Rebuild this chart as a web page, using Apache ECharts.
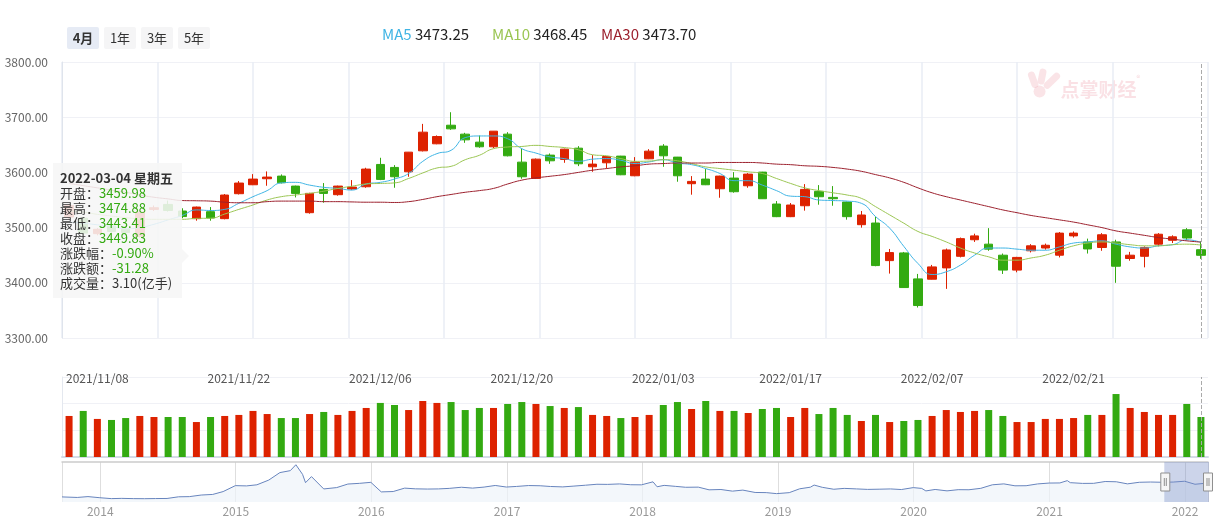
<!DOCTYPE html>
<html>
<head>
<meta charset="utf-8">
<title>日K</title>
<script src="https://cdn.jsdelivr.net/npm/echarts@6/dist/echarts.min.js"></script>
<style>
  html, body { margin: 0; padding: 0; background: #fff; }
  #main { width: 1225px; height: 521px; }
</style>
</head>
<body>
<div id="main"></div>
<script>
  // 交易日
  var dates = [
    '2021-11-04', '2021-11-05', '2021-11-08', '2021-11-09', '2021-11-10', '2021-11-11', '2021-11-12',
    '2021-11-15', '2021-11-16', '2021-11-17', '2021-11-18', '2021-11-19', '2021-11-22', '2021-11-23',
    '2021-11-24', '2021-11-25', '2021-11-26', '2021-11-29', '2021-11-30',
    '2021-12-01', '2021-12-02', '2021-12-03', '2021-12-06', '2021-12-07', '2021-12-08', '2021-12-09',
    '2021-12-10', '2021-12-13', '2021-12-14', '2021-12-15', '2021-12-16', '2021-12-17', '2021-12-20',
    '2021-12-21', '2021-12-22', '2021-12-23', '2021-12-24', '2021-12-27', '2021-12-28', '2021-12-29',
    '2021-12-30', '2021-12-31',
    '2022-01-04', '2022-01-05', '2022-01-06', '2022-01-07', '2022-01-10', '2022-01-11', '2022-01-12',
    '2022-01-13', '2022-01-14', '2022-01-17', '2022-01-18', '2022-01-19', '2022-01-20', '2022-01-21',
    '2022-01-24', '2022-01-25', '2022-01-26', '2022-01-27', '2022-01-28',
    '2022-02-07', '2022-02-08', '2022-02-09', '2022-02-10', '2022-02-11', '2022-02-14', '2022-02-15',
    '2022-02-16', '2022-02-17', '2022-02-18', '2022-02-21', '2022-02-22', '2022-02-23', '2022-02-24',
    '2022-02-25', '2022-02-28',
    '2022-03-01', '2022-03-02', '2022-03-03', '2022-03-04'
  ]

  // [开盘, 收盘, 最低, 最高]
  var candles = [
    [3519, 3540, 3515, 3543], [3517, 3490, 3486, 3519], [3489, 3497, 3486, 3499], [3503, 3493, 3490, 3506],
    [3497, 3491, 3488, 3500], [3484, 3528, 3482, 3530], [3533, 3536, 3530, 3540], [3542, 3531, 3529, 3549],
    [3530, 3520, 3517, 3535], [3516.2, 3537.2, 3512.5, 3538.0], [3528.8, 3517.4, 3512.5, 3537.2],
    [3516.2, 3559.0, 3515.0, 3560.8], [3561.4, 3580.7, 3560.0, 3584.3], [3577.6, 3587.9, 3577.0, 3596.9],
    [3588.5, 3591.5, 3575.8, 3601.8], [3593.3, 3581.3, 3580.0, 3596.3], [3575.2, 3562.0, 3554.7, 3576.0],
    [3527.0, 3562.0, 3525.2, 3563.0], [3569.2, 3562.0, 3545.1, 3580.7], [3559.6, 3575.2, 3557.8, 3576.0],
    [3569.8, 3573.4, 3568.0, 3586.1], [3574.0, 3606.0, 3572.2, 3608.4], [3614.4, 3587.3, 3586.0, 3626.5],
    [3609.0, 3592.1, 3572.2, 3613.2], [3601.1, 3636.7, 3592.1, 3637.0], [3639.1, 3672.9, 3638.0, 3687.9],
    [3651.8, 3665.0, 3651.0, 3667.0], [3685.5, 3678.9, 3677.1, 3709.0], [3669.3, 3659.0, 3653.6, 3671.7],
    [3654.8, 3646.4, 3644.6, 3666.8], [3646.4, 3674.7, 3644.0, 3675.0], [3669.3, 3630.1, 3629.0, 3672.9],
    [3618.6, 3592.1, 3588.5, 3643.3], [3589.1, 3624.0, 3588.0, 3625.2], [3631.3, 3621.0, 3615.6, 3634.3],
    [3623.4, 3642.1, 3617.4, 3643.0], [3643.9, 3615.6, 3611.4, 3647.6], [3610.2, 3615.0, 3601.1, 3631.3],
    [3617.4, 3628.9, 3607.2, 3629.5], [3629.5, 3595.7, 3595.0, 3630.0], [3593.9, 3618.6, 3593.0, 3627.7],
    [3624.6, 3638.5, 3624.0, 3642.1], [3647.6, 3630.1, 3610.2, 3651.2], [3627.7, 3593.9, 3583.1, 3628.0],
    [3579.5, 3583.7, 3559.6, 3593.3], [3587.9, 3577.6, 3577.0, 3606.0], [3570.4, 3593.3, 3554.1, 3594.0],
    [3589.7, 3565.0, 3563.2, 3600.5], [3575.8, 3596.9, 3572.2, 3598.7], [3600.5, 3552.3, 3552.0, 3601.0],
    [3542.7, 3519.8, 3519.0, 3548.1], [3519.8, 3540.9, 3519.0, 3544.5], [3539.6, 3569.2, 3530.7, 3578.8],
    [3565.6, 3555.9, 3541.5, 3577.0], [3554.7, 3552.3, 3539.6, 3575.2], [3546.3, 3519.8, 3514.4, 3547.0],
    [3505.3, 3522.8, 3499.9, 3530.1], [3508.3, 3431.2, 3430.0, 3519.8], [3440.2, 3454.7, 3416.7, 3461.3],
    [3454.1, 3391.4, 3391.0, 3455.9], [3407.1, 3358.8, 3355.2, 3416.1], [3406.5, 3428.8, 3406.0, 3432.4],
    [3427.0, 3459.5, 3389.0, 3462.0], [3448.0, 3480.0, 3446.0, 3482.0], [3478.0, 3485.0, 3474.0, 3489.0],
    [3470.0, 3461.0, 3458.0, 3499.0], [3450.0, 3423.0, 3416.0, 3453.0], [3423.0, 3446.0, 3419.0, 3447.0],
    [3458.0, 3467.0, 3455.0, 3470.0], [3463.0, 3468.0, 3460.0, 3471.0], [3450.0, 3490.0, 3446.0, 3492.0],
    [3485.0, 3490.0, 3482.0, 3493.0], [3474.0, 3461.3, 3453.0, 3480.0], [3464.0, 3487.0, 3458.0, 3490.0],
    [3474.0, 3430.0, 3400.0, 3478.0], [3444.0, 3450.0, 3440.0, 3456.0], [3448.0, 3464.0, 3428.0, 3466.0],
    [3470.0, 3488.0, 3466.0, 3490.0], [3477.0, 3483.3, 3472.0, 3486.0], [3496.0, 3481.11, 3477.0, 3499.0],
    [3459.98, 3449.83, 3443.41, 3474.88]
  ]

  // 成交量(亿手)
  var volumes = [
    3.18, 3.57, 2.95, 2.87, 3.02, 3.18, 3.10, 3.10, 3.10, 2.71,
    3.10, 3.18, 3.26, 3.57, 3.33, 3.02, 3.02, 3.33, 3.49, 3.26,
    3.57, 3.80, 4.19, 4.03, 3.64, 4.34, 4.19, 4.26, 3.64, 3.80,
    3.80, 4.11, 4.26, 4.11, 3.95, 3.80, 3.87, 3.26, 3.18, 3.02,
    3.10, 3.26, 4.03, 4.26, 3.72, 4.34, 3.57, 3.57, 3.41, 3.72,
    3.80, 3.10, 3.80, 3.33, 3.80, 3.26, 2.79, 3.26, 2.71, 2.79,
    2.87, 3.18, 3.64, 3.49, 3.57, 3.64, 3.18, 2.71, 2.71, 2.95,
    2.95, 3.02, 3.26, 3.26, 4.88, 3.80, 3.49, 3.26, 3.26, 4.11,
    3.10
  ]

  var ma5 = [
    3510, 3508, 3505, 3502, 3498, 3500, 3506, 3514, 3522, 3532,
    3531, 3533, 3544, 3556, 3567, 3581, 3582, 3577, 3573, 3571,
    3568, 3579, 3582, 3588, 3598, 3620, 3634, 3640, 3663, 3666,
    3666, 3661, 3643, 3635, 3628, 3625, 3620, 3624, 3625, 3622,
    3616, 3619, 3623, 3617, 3614, 3607, 3598, 3585, 3585, 3577,
    3567, 3557, 3556, 3550, 3549, 3548, 3544, 3520, 3499, 3466,
    3435, 3415, 3420, 3432, 3450, 3463, 3463, 3461, 3459, 3459,
    3465, 3472, 3474, 3476, 3470, 3465, 3463, 3467, 3469, 3478,
    3473.25
  ]
  var ma10 = [
    3530, 3528, 3524, 3521, 3518, 3516, 3515, 3515, 3515, 3516.7,
    3517, 3524.6, 3533, 3541, 3550, 3556, 3559, 3562, 3566, 3571,
    3575, 3579, 3580, 3581, 3589, 3599, 3608, 3611, 3623, 3631,
    3643, 3646, 3647, 3649, 3647, 3645, 3641, 3632, 3630, 3625,
    3620, 3620.5, 3623, 3621, 3616, 3610, 3607, 3604, 3601, 3598,
    3589, 3580, 3572, 3567, 3563, 3559, 3553, 3538, 3523, 3508,
    3493, 3484, 3474, 3463, 3454, 3447, 3441, 3441, 3445, 3450,
    3459, 3467, 3472, 3474, 3472, 3469, 3467, 3467, 3469, 3470,
    3468.45
  ]
  var ma30 = [
    3580, 3576, 3572, 3568, 3564, 3559, 3555, 3552, 3549, 3548.6,
    3548, 3546, 3545, 3545, 3547, 3548, 3548, 3548, 3547, 3547,
    3546.5, 3546, 3546, 3545.5, 3547, 3551, 3556, 3560, 3564, 3567,
    3571, 3579, 3586, 3590, 3593, 3596, 3600, 3604, 3607, 3610,
    3612, 3615, 3616, 3617, 3617, 3617, 3618, 3618, 3618, 3617,
    3615, 3614, 3612, 3611, 3609, 3606, 3602, 3596, 3590, 3582,
    3572, 3563, 3556, 3550, 3544, 3538, 3532, 3527, 3522, 3518,
    3514, 3510, 3505, 3500, 3494, 3490, 3486, 3482, 3479, 3476,
    3473.7
  ]

  // 日期刻度
  var tickIndex = [2, 12, 22, 32, 42, 51, 61, 71]
  var tickLabels = ['2021/11/08', '2021/11/22', '2021/12/06', '2021/12/20',
    '2022/01/03', '2022/01/17', '2022/02/07', '2022/02/21']

  var periods = ['4月', '1年', '3年', '5年']

  // 缩略图走势
  var overview = [
    ['2013-09-20', 2190], ['2013-10-31', 2141], ['2013-11-29', 2220], ['2013-12-31', 2116],
    ['2014-01-31', 2033], ['2014-02-28', 2056], ['2014-03-31', 2033], ['2014-04-30', 2026],
    ['2014-05-30', 2039], ['2014-06-30', 2048], ['2014-07-31', 2201], ['2014-08-29', 2217],
    ['2014-09-30', 2364], ['2014-10-31', 2420], ['2014-11-28', 2683], ['2014-12-31', 3234],
    ['2015-01-30', 3210], ['2015-02-27', 3310], ['2015-03-31', 3748], ['2015-04-30', 4441],
    ['2015-05-28', 4620], ['2015-06-12', 5166], ['2015-06-30', 4277], ['2015-07-08', 3507],
    ['2015-07-24', 4070], ['2015-08-26', 2927], ['2015-09-30', 3053], ['2015-10-30', 3382],
    ['2015-11-30', 3445], ['2015-12-31', 3539], ['2016-01-28', 2655], ['2016-02-29', 2688],
    ['2016-03-31', 3004], ['2016-04-29', 2938], ['2016-05-31', 2917], ['2016-06-30', 2930],
    ['2016-07-29', 2979], ['2016-08-31', 3085], ['2016-09-30', 3005], ['2016-10-31', 3100],
    ['2016-11-30', 3250], ['2016-12-30', 3104], ['2017-01-26', 3159], ['2017-02-28', 3242],
    ['2017-03-31', 3223], ['2017-04-28', 3155], ['2017-05-31', 3117], ['2017-06-30', 3192],
    ['2017-07-31', 3273], ['2017-08-31', 3361], ['2017-09-29', 3349], ['2017-10-31', 3393],
    ['2017-11-30', 3317], ['2017-12-29', 3307], ['2018-01-29', 3587], ['2018-02-09', 3129],
    ['2018-02-28', 3259], ['2018-03-30', 3169], ['2018-04-27', 3082], ['2018-05-31', 3095],
    ['2018-06-29', 2847], ['2018-07-31', 2876], ['2018-08-31', 2725], ['2018-09-28', 2821],
    ['2018-10-31', 2603], ['2018-11-30', 2588], ['2018-12-28', 2494], ['2019-01-31', 2585],
    ['2019-02-28', 2941], ['2019-03-29', 3091], ['2019-04-08', 3288], ['2019-04-30', 3078],
    ['2019-05-31', 2899], ['2019-06-28', 2979], ['2019-07-31', 2932], ['2019-08-30', 2886],
    ['2019-09-30', 2905], ['2019-10-31', 2929], ['2019-11-29', 2872], ['2019-12-31', 3050],
    ['2020-01-23', 2977], ['2020-02-03', 2746], ['2020-02-28', 2880], ['2020-03-31', 2750],
    ['2020-04-30', 2860], ['2020-05-29', 2852], ['2020-06-30', 2985], ['2020-07-31', 3310],
    ['2020-08-31', 3396], ['2020-09-30', 3218], ['2020-10-30', 3225], ['2020-11-30', 3392],
    ['2020-12-31', 3473], ['2021-01-29', 3483], ['2021-02-18', 3696], ['2021-02-26', 3509],
    ['2021-03-31', 3441], ['2021-04-30', 3447], ['2021-05-31', 3615], ['2021-06-30', 3591],
    ['2021-07-30', 3397], ['2021-08-31', 3544], ['2021-09-30', 3568], ['2021-10-29', 3547],
    ['2021-11-30', 3564], ['2021-12-31', 3640], ['2022-01-28', 3361], ['2022-02-28', 3462],
    ['2022-03-04', 3448]
  ]

  var UP = '#dd2200'
  var DOWN = '#33aa11'
  var C_MA5 = '#3fb4e4'
  var C_MA10 = '#9ac552'
  var C_MA30 = '#9b1f2c'
  var FONT = '"Noto Sans CJK SC", "Noto Sans", sans-serif'

  var maLast = {
    MA5: ma5[ma5.length - 1].toFixed(2),
    MA10: ma10[ma10.length - 1].toFixed(2),
    MA30: ma30[ma30.length - 1].toFixed(2)
  }
  var maColor = { MA5: C_MA5, MA10: C_MA10, MA30: C_MA30 }

  function tipHtml(params) {
    var i = params[0].dataIndex
    var k = candles[i]
    var prev = i > 0 ? candles[i - 1][1] : k[0]
    var chg = k[1] - prev
    var week = '星期' + '日一二三四五六'.charAt(new Date(dates[i].replace(/-/g, '/')).getDay())
    var col = function (v) { return v >= prev ? UP : DOWN }
    var rows = [
      ['开盘', k[0].toFixed(2), col(k[0])],
      ['最高', k[3].toFixed(2), col(k[3])],
      ['最低', k[2].toFixed(2), col(k[2])],
      ['收盘', k[1].toFixed(2), col(k[1])],
      ['涨跌幅', (chg / prev * 100).toFixed(2) + '%', chg >= 0 ? UP : DOWN],
      ['涨跌额', chg.toFixed(2), chg >= 0 ? UP : DOWN],
      ['成交量', volumes[i].toFixed(2) + '(亿手)', '#333']
    ]
    var html = '<div style="line-height:15px;font-weight:bold;color:#333">' + dates[i] + ' ' + week + '</div>'
    rows.forEach(function (r) {
      html += '<div style="line-height:15px;color:#333">' + r[0] + '：<span style="color:' + r[2] + '">' + r[1] + '</span></div>'
    })
    html += '<div style="position:absolute;right:-7px;top:86px;width:0;height:0;border-top:7px solid transparent;' +
      'border-bottom:7px solid transparent;border-left:7px solid rgba(246,246,246,0.88)"></div>'
    return html
  }

  // 每条均线一个图例，位置固定
  function maLegend(name, left) {
    return {
      left: left,
      top: 22,
      itemWidth: 0,
      itemHeight: 14,
      icon: 'rect',
      selectedMode: false,
      data: [name],
      formatter: function (n) { return '{n|' + n + '} {v|' + maLast[n] + '}' },
      textStyle: {
        fontSize: 15,
        color: '#222',
        rich: {
          n: { color: maColor[name], fontSize: 15 },
          v: { color: '#222', fontSize: 15 }
        }
      }
    }
  }

  var graphics = periods.map(function (p, i) {
    return {
      type: 'group',
      left: 67 + i * 37,
      top: 27,
      children: [{
        type: 'rect',
        shape: { x: 0, y: 0, width: 32, height: 22, r: 2 },
        style: { fill: i === 0 ? '#e6ebf5' : '#f5f5f6' }
      }, {
        type: 'text',
        x: 16,
        y: 11,
        style: {
          text: p, fontSize: 13, fontWeight: i === 0 ? 'bold' : 'normal', fontFamily: FONT,
          fill: '#333', align: 'center', verticalAlign: 'middle'
        }
      }]
    }
  })
  // 水印
  graphics.push({
    type: 'group',
    left: 1027,
    top: 68,
    silent: true,
    children: [
      { type: 'rect', shape: { x: 4, y: 4, width: 7, height: 17, r: 3.5 }, rotation: 0.35, originX: 7, originY: 12, style: { fill: 'rgba(230,120,135,0.2)' } },
      { type: 'rect', shape: { x: 13, y: 1, width: 7, height: 16, r: 3.5 }, rotation: -0.2, originX: 16, originY: 9, style: { fill: 'rgba(230,120,135,0.2)' } },
      { type: 'rect', shape: { x: 23, y: 3, width: 7, height: 20, r: 3.5 }, rotation: -0.8, originX: 26, originY: 13, style: { fill: 'rgba(230,120,135,0.2)' } },
      { type: 'circle', shape: { cx: 14, cy: 24, r: 6 }, style: { fill: 'rgba(230,120,135,0.2)' } },
      { type: 'text', x: 35, y: 22, style: { text: '点掌财经', fontSize: 19, fontWeight: 'bold', fontFamily: FONT, fill: 'rgba(230,120,135,0.22)', verticalAlign: 'middle' } },
      { type: 'text', x: 111, y: 7, style: { text: '®', fontSize: 8, fontFamily: FONT, fill: 'rgba(230,120,135,0.3)' } }
    ]
  })

  var option = {
    animation: false,
    textStyle: { fontFamily: FONT },
    legend: [maLegend('MA5', 372), maLegend('MA10', 482), maLegend('MA30', 591)],
    tooltip: {
      trigger: 'axis',
      alwaysShowContent: true,
      transitionDuration: 0,
      position: [53, 163],
      padding: [7, 9, 8, 7],
      backgroundColor: 'rgba(246,246,246,0.88)',
      borderWidth: 0,
      extraCssText: 'box-shadow:none;border-radius:0;',
      textStyle: { color: '#333', fontSize: 13, fontFamily: FONT },
      axisPointer: {
        type: 'line',
        lineStyle: { color: '#aaa', type: 'dashed', width: 1 }
      },
      formatter: tipHtml
    },
    axisPointer: {
      link: [{ xAxisIndex: [0, 2] }]
    },
    grid: [
      { left: 62, top: 62, width: 1146, height: 276 },
      { left: 62, top: 377, width: 1146, height: 80 },
      { left: 62, top: 462, width: 1146, height: 40 }
    ],
    xAxis: [
      {
        type: 'category',
        gridIndex: 0,
        data: dates,
        axisLine: { show: false },
        axisTick: { show: false },
        splitLine: { show: false },
        axisLabel: {
          interval: function (idx) { return tickIndex.indexOf(idx) >= 0 },
          formatter: function (v, idx) { return tickLabels[tickIndex.indexOf(idx)] },
          margin: 34,
          color: '#555',
          fontSize: 12
        },
        axisPointer: { label: { show: false }, lineStyle: { color: '#aaa', type: 'dashed' } }
      },
      {
        type: 'value',
        gridIndex: 0,
        min: 0,
        max: 12,
        interval: 1,
        axisLine: { show: false },
        axisTick: { show: false },
        axisLabel: { show: false },
        splitLine: { show: true, lineStyle: { color: '#e9edf4', width: 1.5 } },
        axisPointer: { show: false }
      },
      {
        type: 'category',
        gridIndex: 1,
        data: dates,
        axisLine: { lineStyle: { color: '#d5dbe7', width: 2 } },
        axisTick: { show: false },
        axisLabel: { show: false },
        splitLine: { show: false },
        axisPointer: { label: { show: false }, lineStyle: { color: '#aaa', type: 'dashed' } }
      },
      {
        type: 'time',
        gridIndex: 2,
        min: '2013-09-20',
        max: '2022-03-04',
        splitNumber: 9,
        minInterval: 365 * 24 * 3600 * 1000,
        axisLine: { show: false },
        axisTick: { show: false },
        axisLabel: { formatter: '{yyyy}', color: '#999', fontSize: 12, margin: 3 },
        splitLine: { show: true, lineStyle: { color: '#dedede' } },
        axisPointer: { show: false }
      },
      {
        type: 'value',
        gridIndex: 2,
        position: 'top',
        min: 0,
        max: 1,
        axisLine: { show: true, onZero: false, lineStyle: { color: '#cccccc', width: 1.5 } },
        axisTick: { show: false },
        axisLabel: { show: false },
        splitLine: { show: false },
        axisPointer: { show: false }
      },
      {
        type: 'value',
        gridIndex: 2,
        min: 0,
        max: 100,
        show: false,
        axisPointer: { show: false }
      }
    ],
    yAxis: [
      {
        type: 'value',
        gridIndex: 0,
        min: 3300,
        max: 3800,
        interval: 100,
        axisLine: { show: true, lineStyle: { color: '#dfe4ec' } },
        axisTick: { show: false },
        axisLabel: {
          formatter: function (v) { return v.toFixed(2) },
          color: '#666',
          fontSize: 12,
          margin: 14
        },
        splitLine: { lineStyle: { color: '#f0f1f6' } },
        axisPointer: { show: false }
      },
      {
        type: 'value',
        gridIndex: 1,
        min: 0,
        max: 6.2,
        interval: 6.2 / 3,
        axisLine: { show: true, lineStyle: { color: '#e4e8ef' } },
        axisTick: { show: false },
        axisLabel: { show: false },
        splitLine: { lineStyle: { color: '#f0f1f6' } },
        axisPointer: { show: false }
      },
      {
        type: 'value',
        gridIndex: 2,
        min: 1720,
        max: 5420,
        show: false,
        axisPointer: { show: false }
      },
      {
        type: 'value',
        gridIndex: 2,
        min: -1,
        max: 1,
        show: false,
        axisPointer: { show: false }
      }
    ],
    dataZoom: [{
      type: 'slider',
      xAxisIndex: 5,
      start: 96.1,
      end: 100,
      left: 62,
      right: 17,
      top: 462,
      height: 40,
      showDataShadow: false,
      showDetail: false,
      brushSelect: false,
      moveHandleSize: 0,
      backgroundColor: 'rgba(0,0,0,0)',
      borderColor: 'rgba(0,0,0,0)',
      fillerColor: 'rgba(120,142,200,0.38)',
      handleIcon: 'path://M0,0L9,0L9,18L0,18Z M3.5,5L3.5,13 M5.5,5L5.5,13',
      handleSize: '45%',
      handleStyle: { color: '#f6f6f6', borderColor: '#8f8f8f', borderWidth: 1 }
    }],
    graphic: graphics,
    series: [
      {
        name: '日K',
        type: 'candlestick',
        xAxisIndex: 0,
        yAxisIndex: 0,
        data: candles,
        barWidth: 9,
        emphasis: { disabled: true },
        itemStyle: {
          color: UP,
          color0: DOWN,
          borderColor: UP,
          borderColor0: DOWN,
          borderWidth: 1
        }
      },
      {
        name: 'MA5',
        type: 'line',
        data: ma5,
        smooth: true,
        symbol: 'none',
        emphasis: { disabled: true },
        itemStyle: { color: C_MA5 },
        lineStyle: { color: C_MA5, width: 1 }
      },
      {
        name: 'MA10',
        type: 'line',
        data: ma10,
        smooth: true,
        symbol: 'none',
        emphasis: { disabled: true },
        itemStyle: { color: C_MA10 },
        lineStyle: { color: C_MA10, width: 1 }
      },
      {
        name: 'MA30',
        type: 'line',
        data: ma30,
        smooth: true,
        symbol: 'none',
        emphasis: { disabled: true },
        itemStyle: { color: C_MA30 },
        lineStyle: { color: C_MA30, width: 1 }
      },
      {
        name: '成交量',
        type: 'bar',
        xAxisIndex: 2,
        yAxisIndex: 1,
        barWidth: 7,
        emphasis: { disabled: true },
        data: volumes.map(function (v, i) {
          return { value: v, itemStyle: { color: candles[i][1] >= candles[i][0] ? UP : DOWN } }
        })
      },
      {
        name: '走势',
        type: 'line',
        xAxisIndex: 3,
        yAxisIndex: 2,
        data: overview,
        symbol: 'none',
        silent: true,
        lineStyle: { color: '#6784bd', width: 1 },
        areaStyle: { color: '#eef3f9' }
      },
      {
        name: 'zoom',
        type: 'line',
        xAxisIndex: 5,
        yAxisIndex: 3,
        data: [[0, 0], [100, 0]],
        symbol: 'none',
        silent: true,
        lineStyle: { opacity: 0 }
      }
    ]
  }

  var chart = echarts.init(document.getElementById('main'))
  chart.setOption(option)
  chart.dispatchAction({ type: 'showTip', seriesIndex: 0, dataIndex: candles.length - 1 })
  window.addEventListener('resize', function () { chart.resize() })
</script>
</body>
</html>
